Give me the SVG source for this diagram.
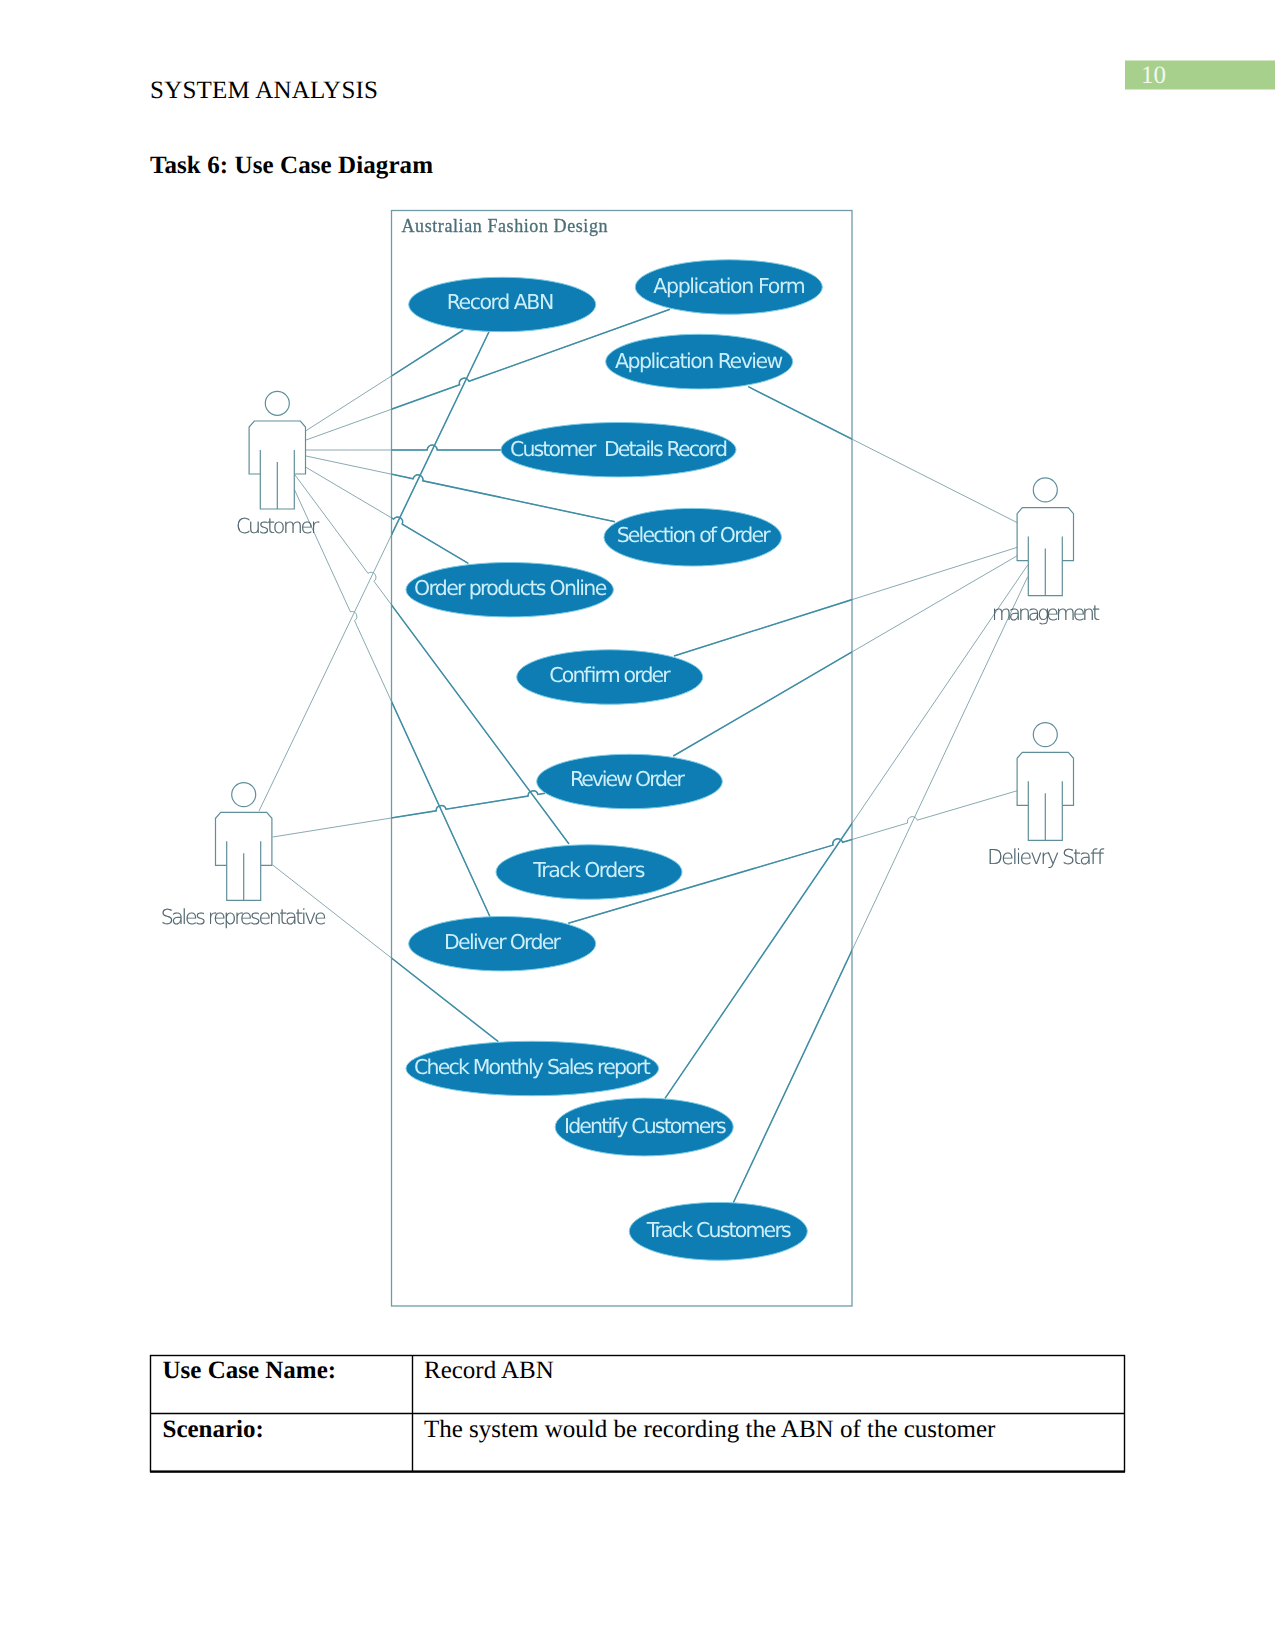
<svg xmlns="http://www.w3.org/2000/svg" xmlns:xlink="http://www.w3.org/1999/xlink" width="1275" height="1651" viewBox="0 0 1275 1651">
  <style>
    .page { font-family: "Liberation Serif", "Times New Roman", serif; fill: #000; font-size: 25px; text-rendering: geometricPrecision; }
    .bold { font-weight: 700; }
    .case { fill: #087db4; stroke: #7ccbe6; stroke-width: 1; }
    .case-label { font-family: "DejaVu Sans", Verdana, sans-serif; font-size: 20.5px; fill: #cdedf9; font-weight: 400; white-space: pre; text-rendering: geometricPrecision; }
    .actor-label { font-family: "DejaVu Sans", Verdana, sans-serif; font-size: 20.5px; fill: #4a6069; font-weight: 200; stroke: #4a6069; stroke-width: 0.2; text-rendering: geometricPrecision; }
    .actor-shape { fill: #fff; stroke: #5f8f9b; stroke-width: 1.2; }
    .rule { stroke: #000; stroke-width: 1.4; fill: none; }
  </style>
  <defs>
    <filter id="soft" filterUnits="userSpaceOnUse" x="140" y="200" width="1000" height="1120">
      <feGaussianBlur stdDeviation="0.5"/>
    </filter>
    <clipPath id="insideSystem">
      <rect x="391.5" y="210.5" width="460.5" height="1095.5"/>
    </clipPath>
    <g id="actor">
      <circle cx="0" cy="-17.7" r="12"/>
      <path d="M-17,29 V88 H17 V29 M-17,53 H-28.2 V6 L-23,0 H23 L28.2,6 V53 H17 M0,41 V88"/>
    </g>
  </defs>

  <rect width="1275" height="1651" fill="#fff"/>

  <!-- Running header -->
  <g id="header">
    <rect x="1125" y="60.5" width="150" height="29" fill="#a8d08d"/>
    <text class="page" x="1141" y="82.5" style="fill:#f2f8ee">10</text>
    <text class="page" x="150" y="98" textLength="228" lengthAdjust="spacing">SYSTEM ANALYSIS</text>
    <text class="page bold" x="150" y="173" textLength="283" lengthAdjust="spacing">Task 6: Use Case Diagram</text>
  </g>

  <g id="diagram" filter="url(#soft)">
    <!-- System boundary -->
    <g id="system">
      <rect x="391.5" y="210.5" width="460.5" height="1095.5" fill="#fff" stroke="#6f9aa6" stroke-width="1.3"/>
      <text x="401.5" y="232" font-family="Liberation Serif, Times New Roman, serif" font-size="18" fill="#4c6f79" textLength="206" lengthAdjust="spacing" stroke="#4c6f79" stroke-width="0.3">Australian Fashion Design</text>
    </g>

    <!-- Associations: thin outside the boundary, heavier inside it -->
    <g id="connectors" fill="none" stroke="#7d9fa8" stroke-width="0.9">
      <g id="routes">
        <path id="c-customer-abn" d="M306,430.7 L463.3,330"/>
        <path id="c-customer-form" d="M306,440 L459.6,384.7 A5,5 0 0 1 469,381.3 L670,309.3"/>
        <path id="c-customer-details" d="M306,450 L427.2,450 A5,5 0 0 1 437.2,450 L501,450"/>
        <path id="c-customer-selection" d="M306,456 L413.1,478.8 A5,5 0 0 1 422.9,480.8 L615,521.7"/>
        <path id="c-customer-online" d="M306,467.3 L393.6,519.1 A5,5 0 0 1 402.2,524.1 L468.3,563.3"/>
        <path id="c-customer-track" d="M295,475 L368,573.3 A5,5 0 0 1 374,581.3 L569,844"/>
        <path id="c-customer-deliver" d="M294.3,489.3 L350.4,611.8 A5,5 0 0 1 354.6,620.8 L490,916.7"/>
        <path id="c-sales-abn" d="M259,811 L489,331.7"/>
        <path id="c-sales-review" d="M272.7,837 L436.2,810.8 A5,5 0 0 1 446,809.2 L528.1,796.1 A5,5 0 0 1 537.9,794.5 L545,793.3"/>
        <path id="c-sales-report" d="M272.7,865 L498.3,1041.7"/>
        <path id="c-mgmt-appreview" d="M748.3,386.7 L1017.3,522.7"/>
        <path id="c-mgmt-confirm" d="M674,656 L1017.3,547.3"/>
        <path id="c-mgmt-review" d="M673.3,756 L1017.3,555.7"/>
        <path id="c-mgmt-identify" d="M665,1098.3 L1027.7,565"/>
        <path id="c-mgmt-trackcust" d="M733.3,1202.7 L1027.7,576.7"/>
        <path id="c-delivery-deliver" d="M568.3,923.3 L833,845.1 A5,5 0 0 1 842.6,842.3 L907.6,823 A5,5 0 0 1 917.2,820.2 L1017.3,790.7"/>
      </g>
      <use href="#routes" xlink:href="#routes" clip-path="url(#insideSystem)" stroke="#3f8ea6" stroke-width="1.5"/>
    </g>

    <!-- Use cases -->
    <g id="uc-record-abn"><ellipse class="case" cx="502.2" cy="304.5" rx="93.5" ry="27.2"/><text class="case-label" x="446.7" y="309.3" textLength="107.6" lengthAdjust="spacing">Record ABN</text></g>
    <g id="uc-application-form"><ellipse class="case" cx="728.8" cy="287" rx="93.5" ry="27.2"/><text class="case-label" x="653.3" y="293.3" textLength="152.4" lengthAdjust="spacing">Application Form</text></g>
    <g id="uc-application-review"><ellipse class="case" cx="699.2" cy="361.6" rx="93.5" ry="27.3"/><text class="case-label" x="615" y="367.7" textLength="168.3" lengthAdjust="spacing">Application Review</text></g>
    <g id="uc-customer-details"><ellipse class="case" cx="618.5" cy="449.7" rx="117.5" ry="27.2"/><text class="case-label" x="510" y="456" textLength="218" lengthAdjust="spacing">Customer  Details Record</text></g>
    <g id="uc-selection"><ellipse class="case" cx="692.7" cy="537.2" rx="88.7" ry="28.8"/><text class="case-label" x="616.7" y="542.3" textLength="154" lengthAdjust="spacing">Selection of Order</text></g>
    <g id="uc-order-online"><ellipse class="case" cx="509.7" cy="589.7" rx="103.7" ry="27.2"/><text class="case-label" x="414" y="595" textLength="193.3" lengthAdjust="spacing">Order products Online</text></g>
    <g id="uc-confirm"><ellipse class="case" cx="609.7" cy="677" rx="93" ry="27.2"/><text class="case-label" x="549.3" y="682.3" textLength="121.4" lengthAdjust="spacing">Confirm order</text></g>
    <g id="uc-review"><ellipse class="case" cx="629.5" cy="781.5" rx="92.8" ry="27.2"/><text class="case-label" x="570" y="786" textLength="115" lengthAdjust="spacing">Review Order</text></g>
    <g id="uc-track-orders"><ellipse class="case" cx="589" cy="872" rx="93" ry="27.2"/><text class="case-label" x="533.3" y="877.3" textLength="112.1" lengthAdjust="spacing">Track Orders</text></g>
    <g id="uc-deliver"><ellipse class="case" cx="502.2" cy="943.7" rx="93.5" ry="27.2"/><text class="case-label" x="444" y="949.3" textLength="117" lengthAdjust="spacing">Deliver Order</text></g>
    <g id="uc-monthly"><ellipse class="case" cx="532.3" cy="1068.5" rx="126.3" ry="27.2"/><text class="case-label" x="414" y="1074" textLength="236.7" lengthAdjust="spacing">Check Monthly Sales report</text></g>
    <g id="uc-identify"><ellipse class="case" cx="644.2" cy="1127" rx="89" ry="28.9"/><text class="case-label" x="564" y="1133.3" textLength="162.7" lengthAdjust="spacing">Identify Customers</text></g>
    <g id="uc-track-customers"><ellipse class="case" cx="718.3" cy="1231.3" rx="89" ry="28.9"/><text class="case-label" x="646.7" y="1236.7" textLength="145" lengthAdjust="spacing">Track Customers</text></g>

    <!-- Actors -->
    <g id="actor-customer" class="actor-shape"><use href="#actor" xlink:href="#actor" x="277.3" y="421"/></g>
    <text class="actor-label" x="236" y="533.3" textLength="83.3" lengthAdjust="spacing">Customer</text>
    <g id="actor-sales" class="actor-shape"><use href="#actor" xlink:href="#actor" x="243.7" y="812.3"/></g>
    <text class="actor-label" x="160.7" y="924.3" textLength="166" lengthAdjust="spacing">Sales representative</text>
    <g id="actor-management" class="actor-shape"><use href="#actor" xlink:href="#actor" x="1045.3" y="507.6"/></g>
    <text class="actor-label" x="991.7" y="620" textLength="108.3" lengthAdjust="spacing">management</text>
    <g id="actor-delivery" class="actor-shape"><use href="#actor" xlink:href="#actor" x="1045.3" y="752.3"/></g>
    <text class="actor-label" x="987.3" y="864" textLength="116.7" lengthAdjust="spacing">Delievry Staff</text>
  </g>

  <!-- Use case summary table -->
  <g id="summary-table">
    <rect class="rule" x="150.5" y="1355.5" width="974" height="116"/>
    <path class="rule" d="M150.5,1413.5 H1124.5 M412.5,1355.5 V1471.5"/>
    <path d="M150,1471.7 H1125" stroke="#000" stroke-width="2.2"/>
    <text class="page bold" x="162.5" y="1378">Use Case Name:</text>
    <text class="page" x="424" y="1378">Record ABN</text>
    <text class="page bold" x="162.5" y="1437">Scenario:</text>
    <text class="page" x="424" y="1437">The system would be recording the ABN of the customer</text>
  </g>
</svg>
